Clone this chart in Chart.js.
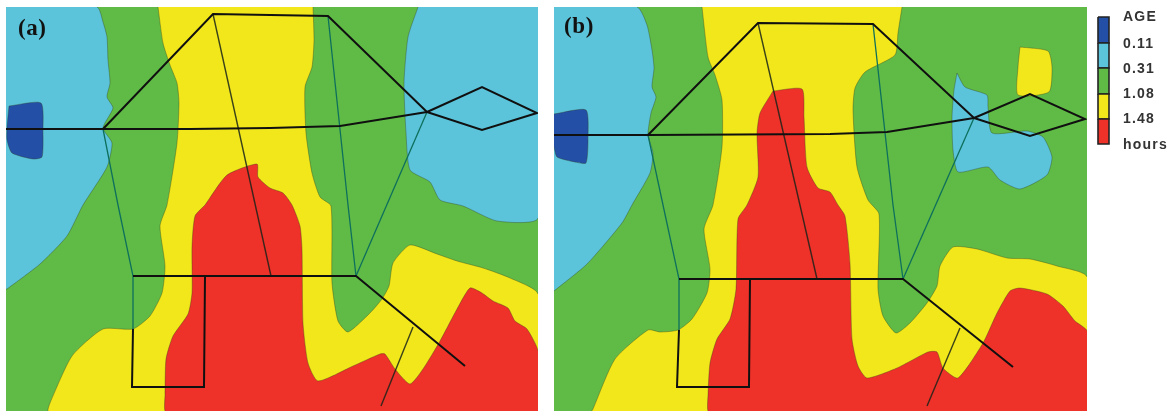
<!DOCTYPE html>
<html><head><meta charset="utf-8">
<style>html,body{margin:0;padding:0;background:#fff}#w{width:1174px;height:412px;position:relative}canvas{display:block;filter:blur(0.45px)}</style>
<script src="https://cdn.jsdelivr.net/npm/chart.js@4/dist/chart.umd.min.js"></script>
</head><body><div id="w"><canvas id="c" width="1174" height="412"></canvas></div>
<script>
// ---------- Map regions, panel (a) ----------
const aPanel=[[6,7],[538,7],[538,411],[6,411]];
const aCyanLeft=[[6,7],[97,7],[103,22],[107,37],[108,60],[110,83],[107,97],[113,108],[103,128],[112,143],[107,167],[83,205],[67,236],[40,264],[7,289],[6,289]];
const aBlue=[[9,106],[41,103],[43,133],[42,157],[33,159],[12,153],[7,140],[7,128],[9,106]];
const aCyanRight=[[418,7],[408,37],[404,83],[406,133],[410,170],[430,182],[440,200],[463,206],[497,221],[538,218],[538,7]];
const aYellow=[[158,7],[163,43],[170,65],[177,83],[179,103],[177,143],[167,205],[160,226],[165,266],[162,293],[150,316],[133,329],[103,329],[72,356],[50,403],[48,411],[56,411],[538,411],[538,294],[510,278],[483,268],[457,261],[437,254],[410,245],[393,263],[389,286],[382,299],[370,313],[348,332],[338,321],[332,283],[331,206],[320,197],[312,173],[306,133],[305,87],[312,67],[314,40],[313,7]];
const aRed=[[205,205],[227,175],[257,164],[258,177],[270,188],[283,193],[292,205],[300,226],[302,249],[303,323],[308,363],[318,381],[353,366],[380,354],[385,354],[395,369],[410,384],[423,369],[440,341],[457,309],[470,288],[482,293],[493,301],[508,308],[515,321],[527,329],[538,351],[538,411],[173,411],[165,411],[165,395],[166,359],[173,336],[188,314],[192,293],[192,246],[195,216],[205,205]];
// ---------- Map regions, panel (b) ----------
const bPanel=[[554,7],[1087,7],[1087,411],[554,411]];
const bCyanLeft=[[554,7],[637,7],[647,25],[652,50],[654,68],[652,87],[656,97],[651,113],[648,135],[653,153],[650,173],[632,205],[622,223],[587,264],[554,291]];
const bBlue=[[554,114],[586,110],[588,140],[586,163],[575,162],[557,157],[554,147]];
const bYellow=[[702,7],[708,57],[715,75],[722,100],[722,147],[713,205],[704,229],[710,269],[707,293],[692,319],[678,330],[660,332],[648,330],[615,359],[593,409],[592,411],[600,411],[1087,411],[1087,277],[1057,266],[1030,259],[1007,258],[977,249],[953,247],[940,266],[937,286],[927,303],[910,323],[896,333],[883,316],[878,289],[879,214],[868,200],[857,167],[853,110],[855,88],[865,72],[895,55],[898,33],[902,7]];
const bRed=[[773,91],[802,89],[804,117],[807,167],[818,188],[830,192],[838,205],[845,216],[850,263],[852,339],[858,366],[867,378],[897,368],[928,352],[937,352],[943,368],[958,378],[983,343],[997,313],[1010,291],[1020,288],[1047,294],[1063,306],[1075,321],[1087,331],[1087,411],[716,411],[708,411],[708,395],[710,363],[717,339],[730,319],[736,289],[738,219],[747,205],[758,177],[757,133],[760,113],[773,91]];
const bCyanRight=[[957,73],[965,87],[987,95],[988,107],[992,133],[1027,131],[1043,137],[1052,157],[1047,175],[1020,189],[1000,180],[988,167],[958,172],[953,150],[952,117],[954,90],[957,73]];
const bYellowIsland=[[1020,47],[1048,51],[1052,67],[1049,92],[1018,95],[1018,67],[1020,47]];
// ---------- Network lines ----------
const aBlack=[
 [[6,129],[103,129],[190,129],[270,128],[340,126],[427,112]],
 [[103,129],[213,14],[328,16],[427,112]],
 [[427,112],[482,87],[537,113],[482,130],[427,112]],
 [[133,276],[356,276],[465,366]],
 [[205,276],[204,387],[132,387],[133,329]]];
const aTeal=[
 [[328,16],[348,205],[356,276]],
 [[427,112],[356,276]],
 [[103,129],[118,205],[133,276],[133,329]]];
const aThin=[
 [[213,14],[271,276]],
 [[413,327],[381,406]]];
const bBlack=[
 [[554,135],[648,135],[830,134],[887,132],[974,118]],
 [[648,135],[758,23],[873,24],[974,118]],
 [[974,118],[1030,94],[1085,119],[1030,136],[974,118]],
 [[679,279],[903,279],[1013,367]],
 [[750,279],[749,387],[677,387],[679,330]]];
const bTeal=[
 [[873,24],[893,205],[903,279]],
 [[974,118],[903,279]],
 [[648,135],[663,205],[679,279],[679,330]]];
const bThin=[
 [[758,23],[817,279]],
 [[960,328],[927,406]]];
// ---------- Legend ----------
const legendBands=[
 [[1098,17],[1109,17],[1109,43],[1098,43]],
 [[1098,43],[1109,43],[1109,68],[1098,68]],
 [[1098,68],[1109,68],[1109,94],[1098,94]],
 [[1098,94],[1109,94],[1109,119],[1098,119]],
 [[1098,119],[1109,119],[1109,144],[1098,144]]];
const BLUE='#2350A6',CYAN='#5BC4DA',GREEN='#60BB46',YELLOW='#F2E71B',RED='#EE3129';
const legendColors=[BLUE,CYAN,GREEN,YELLOW,RED];
const legendLabels=['AGE','0.11','0.31','1.08','1.48','hours'];
const legendLabelY=[17,44,69,94,119,145];
const panelLabels=[['(a)',18,29],['(b)',564,27]];

const EDGE='rgba(50,60,30,0.4)';
const frameX=[6,538,554,1087],frameY=[7,411];
const onFrame=c=>{const p=c.p0.parsed,q=c.p1.parsed;return (p.x===q.x&&frameX.includes(p.x))||(p.y===q.y&&frameY.includes(p.y));};
const layers=[];
const fillArea=(d,c,edge)=>{
  layers.push({data:d,backgroundColor:c,fill:'shape',tension:edge?0.2:0,borderColor:'transparent',borderWidth:0});
  if(edge)layers.push({data:d,fill:false,tension:0.2,borderColor:EDGE,borderWidth:0.9,segment:{borderColor:s=>onFrame(s)?'transparent':undefined}});
};
const stroke=(list,c,w)=>list.forEach(d=>layers.push({data:d,fill:false,tension:0,borderColor:c,borderWidth:w}));
fillArea(aPanel,GREEN,false);fillArea(aCyanLeft,CYAN,true);fillArea(aCyanRight,CYAN,true);fillArea(aBlue,BLUE,true);fillArea(aYellow,YELLOW,true);fillArea(aRed,RED,true);
fillArea(bPanel,GREEN,false);fillArea(bCyanLeft,CYAN,true);fillArea(bBlue,BLUE,true);fillArea(bYellow,YELLOW,true);fillArea(bRed,RED,true);fillArea(bCyanRight,CYAN,true);fillArea(bYellowIsland,YELLOW,true);
stroke(aTeal,'#0E6F5C',1.3);stroke(bTeal,'#0E6F5C',1.3);
stroke(aThin,'rgba(25,35,25,0.85)',1.4);stroke(bThin,'rgba(25,35,25,0.85)',1.4);
stroke(aBlack,'#101010',2);stroke(bBlack,'#101010',2);
legendBands.forEach((d,i)=>layers.push({data:d.concat([d[0]]),backgroundColor:legendColors[i],fill:'shape',tension:0,borderColor:'#222',borderWidth:1.6}));
layers.forEach((l,i)=>{l.order=layers.length-i;l.pointRadius=0;l.pointHoverRadius=0;l.showLine=true;});

const textPlugin={id:'texts',
 beforeDatasetsDraw(ch){
  const c=ch.ctx,sx=ch.scales.x,sy=ch.scales.y;c.save();c.beginPath();
  const rect=(f)=>{const x0=sx.getPixelForValue(f[0][0]),y0=sy.getPixelForValue(f[0][1]),x1=sx.getPixelForValue(f[2][0]),y1=sy.getPixelForValue(f[2][1]);c.rect(x0,y0,x1-x0,y1-y0);};
  rect(aPanel);rect(bPanel);
  c.rect(sx.getPixelForValue(1097),sy.getPixelForValue(15),14,132);
  c.clip();
 },
 afterDatasetsDraw(ch){
  const c=ch.ctx,sx=ch.scales.x,sy=ch.scales.y;c.restore();c.save();c.textBaseline='middle';c.textAlign='left';
  c.fillStyle='#333';c.font='bold 14px "Liberation Sans"';c.letterSpacing='1.2px';
  legendLabels.forEach((t,i)=>c.fillText(t,sx.getPixelForValue(1123),sy.getPixelForValue(legendLabelY[i])));
  c.fillStyle='#111';c.font='bold 23px "Liberation Serif"';c.letterSpacing='0.6px';
  panelLabels.forEach(p=>c.fillText(p[0],sx.getPixelForValue(p[1]),sy.getPixelForValue(p[2])));
  c.restore();
 }};
new Chart(document.getElementById('c'),{type:'scatter',data:{datasets:layers},plugins:[textPlugin],options:{
  responsive:false,animation:false,layout:{padding:0},events:[],
  plugins:{legend:{display:false},tooltip:{enabled:false}},
  scales:{x:{type:'linear',display:false,min:0,max:1174},y:{type:'linear',display:false,min:0,max:412,reverse:true}}
}});
</script></body></html>
